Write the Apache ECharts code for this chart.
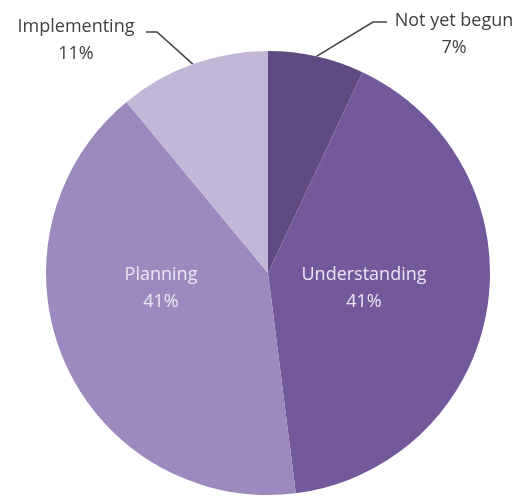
<!DOCTYPE html>
<html>
<head>
<meta charset="utf-8">
<script src="https://cdn.jsdelivr.net/npm/echarts@6/dist/echarts.min.js"></script>
<style>
html,body{margin:0;padding:0;background:#fff;}
#chart{width:523px;height:502px;}
</style>
</head>
<body>
<div id="chart"></div>
<script>
// Data
const categories = ['Not yet begun', 'Understanding', 'Planning', 'Implementing'];
const values = [7, 41, 41, 11];

// Styles (kept separate from data)
const colors = ['#5f4a81', '#72599c', '#9c8abe', '#c2b7d7'];
const insideLabel = [false, true, true, false];
// label anchor positions (text block centers) and leader bends
const labelPos = [
  {x: 454, y: 34, bend: [[373, 22], [387, 22]]},
  {x: 364, y: 288},
  {x: 161, y: 288},
  {x: 76, y: 40, bend: [[157, 32], [146, 32]]}
];

const chart = echarts.init(document.getElementById('chart'), null, {renderer: 'canvas'});

const data = categories.map((name, i) => ({
  name: name,
  value: values[i],
  itemStyle: {color: colors[i]},
  label: insideLabel[i]
    ? {position: 'inside', color: '#ece6f4'}
    : {position: 'outside', color: '#3f3f3f'},
  labelLine: {show: !insideLabel[i]}
}));

chart.setOption({
  animation: false,
  series: [{
    type: 'pie',
    center: [268, 273],
    radius: [0, 222],
    startAngle: 90,
    clockwise: true,
    avoidLabelOverlap: false,
    data: data,
    itemStyle: {borderWidth: 0},
    label: {
      formatter: '{b}\n{c}%',
      fontFamily: 'Open Sans',
      fontSize: 18,
      lineHeight: 27,
      align: 'center'
    },
    labelLine: {
      lineStyle: {color: '#454545', width: 1.6}
    },
    labelLayout: function (params) {
      const p = labelPos[params.dataIndex];
      const res = {x: p.x, y: p.y, align: 'center', verticalAlign: 'middle'};
      if (p.bend && params.labelLinePoints) {
        res.labelLinePoints = [params.labelLinePoints[0], p.bend[0], p.bend[1]];
      }
      return res;
    }
  }]
});
</script>
</body>
</html>
